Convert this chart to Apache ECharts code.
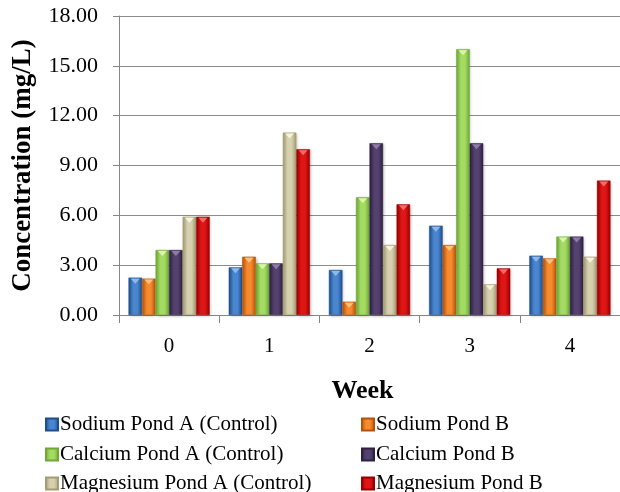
<!DOCTYPE html>
<html>
<head>
<meta charset="utf-8">
<script src="https://cdn.jsdelivr.net/npm/echarts@6/dist/echarts.min.js"></script>
<style>
  html, body { margin: 0; padding: 0; background: #fff; }
  #chart { width: 620px; height: 492px; }
</style>
</head>
<body>
<div id="chart"></div>
<script>
// Weekly ion concentrations (mg/L) in the control pond and pond B
const weeks = ['0', '1', '2', '3', '4'];
const seriesNames = [
  'Sodium Pond A (Control)', 'Sodium Pond B',
  'Calcium Pond A (Control)', 'Calcium Pond B',
  'Magnesium Pond A (Control)', 'Magnesium Pond B'
];
const sodiumA = [2.25, 2.87, 2.71, 5.38, 3.57];
const sodiumB = [2.19, 3.51, 0.80, 4.21, 3.41];
const calciumA = [3.91, 3.11, 7.09, 16.00, 4.72];
const calciumB = [3.91, 3.11, 10.34, 10.34, 4.72];
const magnesiumA = [5.92, 10.98, 4.21, 1.85, 3.51];
const magnesiumB = [5.92, 9.98, 6.66, 2.81, 8.09];
const yTicks = { min: 0, max: 18, interval: 3 };

const seriesValues = [sodiumA, sodiumB, calciumA, calciumB, magnesiumA, magnesiumB];
// [edge, centre, bevel highlight] shades for the bevelled bar look
const palette = [
  ['#1F4E8C', '#4A86CF', '#8DB8EA'],
  ['#B85208', '#F58A2E', '#FBC07E'],
  ['#6FA834', '#A4DC63', '#D8F5A8'],
  ['#2C2140', '#54416E', '#8E7BA8'],
  ['#A49C73', '#D6D0AE', '#F6F2DE'],
  ['#9A0000', '#E01515', '#F46A6A']
];

function barFill(c) {
  return new echarts.graphic.LinearGradient(0, 0, 1, 0, [
    { offset: 0, color: c[0] },
    { offset: 0.35, color: c[1] },
    { offset: 0.65, color: c[1] },
    { offset: 1, color: c[0] }
  ]);
}

const font = '"Liberation Serif", "Times New Roman", serif';

const bars = seriesNames.map((name, i) => ({
  name: name,
  type: 'bar',
  data: seriesValues[i],
  barGap: '0%',
  barCategoryGap: '19%',
  z: 2,
  itemStyle: {
    color: barFill(palette[i]),
    borderColor: palette[i][0],
    borderWidth: 0.5,
    shadowColor: 'rgba(0,0,0,0.25)',
    shadowBlur: 3,
    shadowOffsetX: 1,
    shadowOffsetY: 1
  }
}));

// small downward bevel wedge at the top of each bar
const caps = seriesNames.map((name, i) => ({
  name: name + ' cap',
  type: 'pictorialBar',
  data: seriesValues[i],
  barGap: '0%',
  barCategoryGap: '19%',
  symbol: 'path://M0,0 L10,0 L5,6 Z',
  symbolSize: [9, 5],
  symbolPosition: 'end',
  symbolOffset: [0, 1],
  z: 3,
  silent: true,
  itemStyle: { color: palette[i][2] }
}));

const legendCommon = {
  orient: 'horizontal',
  padding: 0,
  itemWidth: 12,
  itemHeight: 12,
  icon: 'rect',
  textStyle: { fontFamily: font, fontSize: 21, color: '#000', padding: [0, 0, 0, -3] }
};
const legendCols = [45, 361];
const legendRows = [414, 444, 473];
const legends = seriesNames.map((name, i) => Object.assign({}, legendCommon, {
  left: legendCols[i % 2],
  top: legendRows[Math.floor(i / 2)],
  data: [name]
}));

const chart = echarts.init(document.getElementById('chart'));
chart.setOption({
  animation: false,
  textStyle: { fontFamily: font },
  grid: { left: 119, right: 0, top: 16, bottom: 177, containLabel: false, outerBoundsMode: 'none' },
  legend: legends,
  xAxis: {
    type: 'category',
    data: weeks,
    name: 'Week',
    nameLocation: 'middle',
    nameGap: 63,
    nameTextStyle: { fontFamily: font, fontSize: 26, fontWeight: 'bold', color: '#000', padding: [0, 14, 0, 0] },
    axisLine: { lineStyle: { color: '#868686' } },
    axisTick: { show: true, length: 8, lineStyle: { color: '#868686' } },
    axisLabel: { fontFamily: font, fontSize: 21, color: '#000', margin: 21 }
  },
  yAxis: {
    type: 'value',
    min: yTicks.min,
    max: yTicks.max,
    interval: yTicks.interval,
    name: 'Concentration (mg/L)',
    nameLocation: 'middle',
    nameGap: 82,
    nameTextStyle: { fontFamily: font, fontSize: 27, fontWeight: 'bold', color: '#000' },
    axisLine: { show: true, lineStyle: { color: '#868686' } },
    axisTick: { show: true, length: 6, lineStyle: { color: '#868686' } },
    axisLabel: { fontFamily: font, fontSize: 22, color: '#000', margin: 21, formatter: v => v.toFixed(2) },
    splitLine: { lineStyle: { color: '#8C8C8C', width: 1 } }
  },
  series: bars.concat(caps)
});
</script>
</body>
</html>
